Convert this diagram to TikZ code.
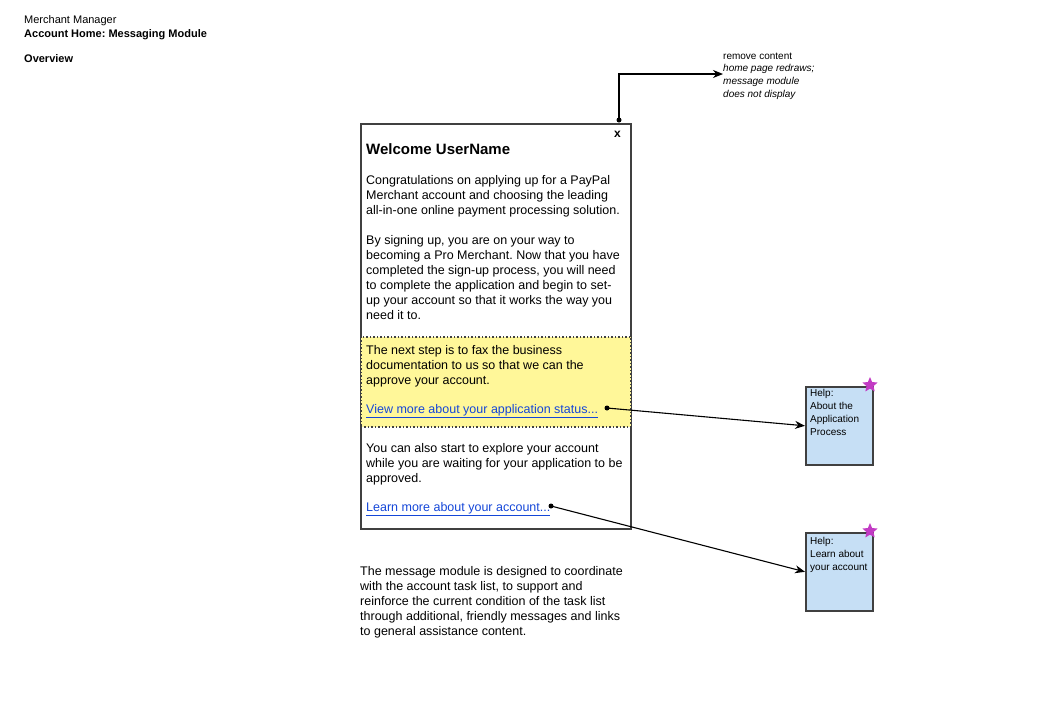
\documentclass[tikz,border=0pt]{standalone}
\usepackage{fontspec}
\setmainfont{Liberation Sans}
\usetikzlibrary{arrows.meta,shapes.geometric}
\definecolor{boxline}{HTML}{404040}
\definecolor{noteyellow}{HTML}{FFF799}
\definecolor{helpblue}{HTML}{C6DFF5}
\definecolor{linkblue}{HTML}{1446D8}
\definecolor{starpink}{HTML}{C23BC4}
\frenchspacing
\begin{document}
\begin{tikzpicture}[x=1pt,y=-1pt,
  txt/.style={inner sep=0pt,anchor=base west,align=left,text=black},
  body/.style={txt,font=\fontsize{12.5}{15}\selectfont},
  small/.style={txt,font=\fontsize{11}{14}\selectfont},
  note/.style={txt,font=\fontsize{10}{12.7}\selectfont},
  panel/.style={draw=boxline,line width=1.6pt,anchor=north west,inner sep=0pt},
  helpbox/.style={panel,fill=helpblue,minimum width=67pt,minimum height=78pt},
  pinkstar/.style={star,star points=5,star point ratio=2.2,fill=starpink,inner sep=0pt,minimum size=16pt},
  dot/.style={circle,fill=black,inner sep=0pt,minimum size=5pt},
  conn/.style={line width=1.1pt,-{Stealth[length=10pt,width=8pt]}},
  link/.style={body,text=linkblue}]
\useasboundingbox (0,0) rectangle (1050,710);

% header (anchor = baseline of last line)
\node[small] (h1) at (24,23) {Merchant Manager};
\node[small,font=\fontsize{11}{14}\selectfont\bfseries] (h2) at (24,37) {Account Home: Messaging Module};
\node[small,font=\fontsize{11}{14}\selectfont\bfseries] (h3) at (24,62) {Overview};

% main panel
\node[panel,minimum width=270pt,minimum height=405pt] (main) at (360,123) {};
\node[panel,draw=boxline,line width=1.5pt,dash pattern=on 1.5pt off 2pt,fill=noteyellow,minimum width=270pt,minimum height=90pt] (yellow) at (360,336) {};
\node[txt,font=\fontsize{12}{14}\selectfont\bfseries] (close) at (614,137) {x};

\node[txt,font=\fontsize{15}{18}\selectfont\bfseries] (welcome) at (366,154) {Welcome UserName};
\node[body] (p1) at (366,214) {Congratulations on applying up for a PayPal\\Merchant account and choosing the leading\\all-in-one online payment processing solution.};
\node[body] (p2) at (366,319) {By signing up, you are on your way to\\becoming a Pro Merchant. Now that you have\\completed the sign-up process, you will need\\to complete the application and begin to set-\\up your account so that it works the way you\\need it to.};
\node[body] (p3) at (366,384) {The next step is to fax the business\\documentation to us so that we can the\\approve your account.};
\node[link] (l1) at (366,413) {\underline{View more about your application status...}};
\node[body] (p4) at (366,482) {You can also start to explore your account\\while you are waiting for your application to be\\approved.};
\node[link] (l2) at (366,511) {\underline{Learn more about your account...}};

\node[body] (p5) at (360,635) {The message module is designed to coordinate\\with the account task list, to support and\\reinforce the current condition of the task list\\through additional, friendly messages and links\\to general assistance content.};

% annotation
\node[note,anchor=west] (annot) at (723,76) {remove content\\\textit{home page redraws;}\\\textit{message module}\\\textit{does not display}};

% help boxes
\node[helpbox] (help1) at (805,386) {};
\node[note] (t1) at (810,435) {Help:\\About the\\Application\\Process};
\node[pinkstar] (s1) at (870,385) {};
\node[helpbox] (help2) at (805,532) {};
\node[note] (t2) at (810,570) {Help:\\Learn about\\your account};
\node[pinkstar] (s2) at (870,531) {};

% connectors
\node[dot] (d0) at (619,120) {};
\node[dot] (d1) at (607,408) {};
\node[dot] (d2) at (551,506) {};
\draw[conn] (d0.center) |- ([yshift=2pt]annot.west);
\draw[conn] (d1.center) -- (help1.west);
\draw[conn] (d2.center) -- (help2.west);
\end{tikzpicture}
\end{document}
